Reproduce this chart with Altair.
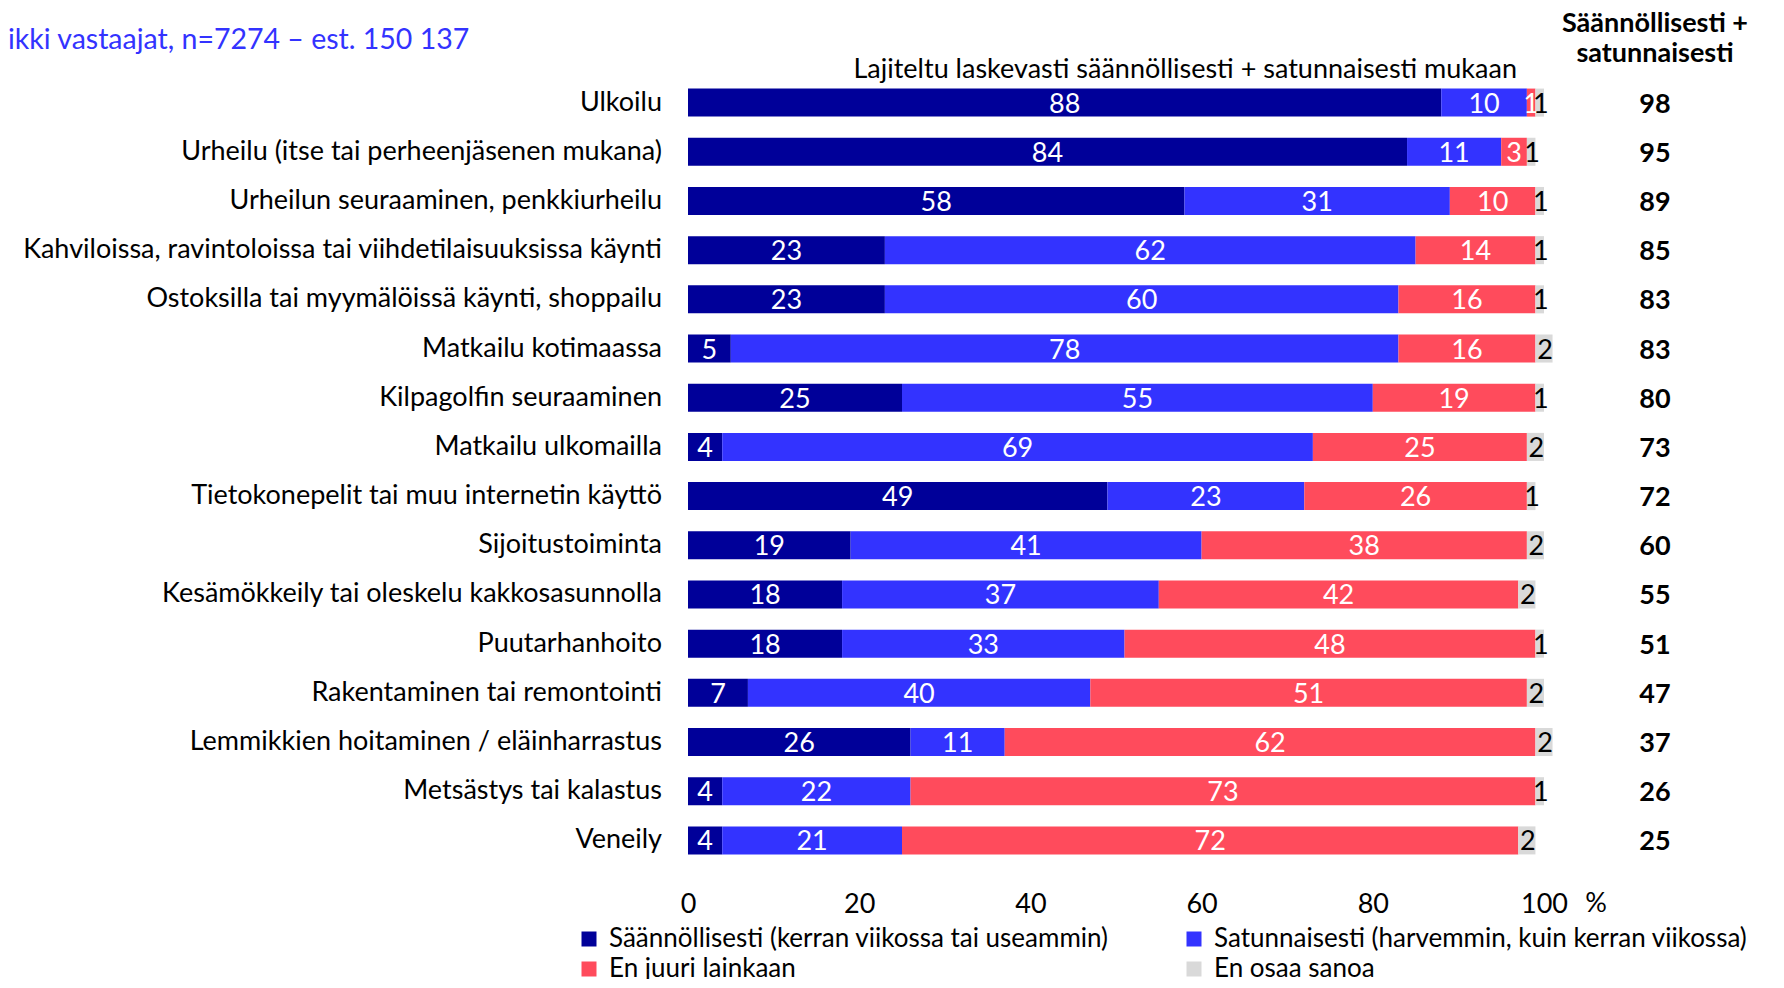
import altair as alt
import pandas as pd

categories = [
    "Ulkoilu",
    "Urheilu (itse tai perheenjäsenen mukana)",
    "Urheilun seuraaminen, penkkiurheilu",
    "Kahviloissa, ravintoloissa tai viihdetilaisuuksissa käynti",
    "Ostoksilla tai myymälöissä käynti, shoppailu",
    "Matkailu kotimaassa",
    "Kilpagolfin seuraaminen",
    "Matkailu ulkomailla",
    "Tietokonepelit tai muu internetin käyttö",
    "Sijoitustoiminta",
    "Kesämökkeily tai oleskelu kakkosasunnolla",
    "Puutarhanhoito",
    "Rakentaminen tai remontointi",
    "Lemmikkien hoitaminen / eläinharrastus",
    "Metsästys tai kalastus",
    "Veneily",
]
regular = [88, 84, 58, 23, 23, 5, 25, 4, 49, 19, 18, 18, 7, 26, 4, 4]
occasional = [10, 11, 31, 62, 60, 78, 55, 69, 23, 41, 37, 33, 40, 11, 22, 21]
not_at_all = [1, 3, 10, 14, 16, 16, 19, 25, 26, 38, 42, 48, 51, 62, 73, 72]
dont_know = [1, 1, 1, 1, 1, 2, 1, 2, 1, 2, 2, 1, 2, 2, 1, 2]
totals = [98, 95, 89, 85, 83, 83, 80, 73, 72, 60, 55, 51, 47, 37, 26, 25]

series = [
    "Säännöllisesti (kerran viikossa tai useammin)",
    "Satunnaisesti (harvemmin, kuin kerran viikossa)",
    "En juuri lainkaan",
    "En osaa sanoa",
]
colors = ["#000099", "#3333FF", "#FF4B5C", "#D9D9D9"]
x_ticks = [0, 20, 40, 60, 80, 100]

title_text = "ikki vastaajat, n=7274 – est. 150 137"
subtitle_text = "Lajiteltu laskevasti säännöllisesti + satunnaisesti mukaan"
header_line1 = "Säännöllisesti +"
header_line2 = "satunnaisesti"
unit_text = "%"

FONT = "Lato"
FS = 27

rows = []
for i, c in enumerate(categories):
    for j, vals in enumerate([regular, occasional, not_at_all, dont_know]):
        rows.append({"cat": c, "series": series[j], "order": j, "value": vals[i]})
df = pd.DataFrame(rows)
cat_df = pd.DataFrame({"cat": categories, "total": totals})
one = pd.DataFrame({"k": [0]})

# legend fills column-major: reorder domain so rows read s0,s1 / s2,s3
legend_domain = [series[0], series[2], series[1], series[3]]
legend_range = [colors[0], colors[2], colors[1], colors[3]]

y_enc = alt.Y(
    "cat:N", sort=categories, axis=None,
    scale=alt.Scale(paddingInner=0.43, paddingOuter=0.215),
)
x_scale = alt.Scale(domain=[0, 100], nice=False)
x_axis = alt.Axis(
    values=x_ticks, title=None, grid=False, domain=False, ticks=False,
    tickSize=0, labelPadding=26, labelFont=FONT, labelFontSize=FS,
    labelColor="#000000", labelFlush=False,
)

bars = alt.Chart(df).mark_bar().encode(
    x=alt.X("value:Q", stack="zero", scale=x_scale, axis=x_axis),
    y=y_enc,
    color=alt.Color(
        "series:N",
        scale=alt.Scale(domain=legend_domain, range=legend_range),
        legend=alt.Legend(
            title=None, orient="none", legendX=-112, legendY=848,
            columns=2, symbolType="square", symbolSize=225,
            symbolStrokeWidth=0, labelFont=FONT, labelFontSize=26,
            labelColor="#000000", labelLimit=0, labelOffset=7,
            columnPadding=72, rowPadding=4,
        ),
    ),
    order=alt.Order("order:Q"),
)

stacked = alt.Chart(df).transform_stack(
    stack="value", groupby=["cat"], as_=["v0", "v1"],
    sort=[alt.SortField("order", order="ascending")],
).transform_calculate(mid="(datum.v0 + datum.v1) / 2")

seg_white = stacked.transform_filter("datum.order < 3").mark_text(
    font=FONT, fontSize=FS, color="#FFFFFF", baseline="middle", dy=2,
).encode(
    x=alt.X("mid:Q", scale=x_scale, axis=x_axis),
    y=y_enc,
    text=alt.Text("value:Q"),
)

seg_black = stacked.transform_filter("datum.order == 3").mark_text(
    font=FONT, fontSize=FS, color="#000000", baseline="middle", dy=2, dx=1,
).encode(
    x=alt.X("mid:Q", scale=x_scale, axis=x_axis),
    y=y_enc,
    text=alt.Text("value:Q"),
)

cat_labels = alt.Chart(cat_df).mark_text(
    font=FONT, fontSize=FS, color="#000000", align="right", baseline="middle",
).encode(x=alt.value(-26), y=y_enc, text="cat:N")

total_labels = alt.Chart(cat_df).mark_text(
    font=FONT, fontSize=FS, fontWeight="bold", color="#000000",
    align="center", baseline="middle", dy=2,
).encode(x=alt.value(967), y=y_enc, text="total:Q")

header1 = alt.Chart(one).mark_text(
    font=FONT, fontSize=FS, fontWeight="bold", color="#000000",
    align="center", baseline="middle",
).encode(x=alt.value(967), y=alt.value(-54), text=alt.value(header_line1))

header2 = alt.Chart(one).mark_text(
    font=FONT, fontSize=FS, fontWeight="bold", color="#000000",
    align="center", baseline="middle",
).encode(x=alt.value(967), y=alt.value(-24), text=alt.value(header_line2))

subtitle = alt.Chart(one).mark_text(
    font=FONT, fontSize=FS, color="#000000", align="right", baseline="middle",
).encode(x=alt.value(829), y=alt.value(-8), text=alt.value(subtitle_text))

title = alt.Chart(one).mark_text(
    font=FONT, fontSize=28.5, color="#3333FF", align="left", baseline="middle",
).encode(x=alt.value(-680), y=alt.value(-38), text=alt.value(title_text))

unit = alt.Chart(one).mark_text(
    font=FONT, fontSize=FS, color="#000000", align="center", baseline="middle",
).encode(x=alt.value(908), y=alt.value(826), text=alt.value(unit_text))

chart = alt.layer(
    bars, seg_white, seg_black, cat_labels, total_labels,
    header1, header2, subtitle, title, unit,
).properties(
    width=856, height=787,
    padding={"left": 680, "top": 70, "right": 232, "bottom": 114},
    autosize=alt.AutoSizeParams(type="none"),
).configure_view(stroke=None)

chart.save("out.html", embed_options={"renderer": "svg", "actions": False})
